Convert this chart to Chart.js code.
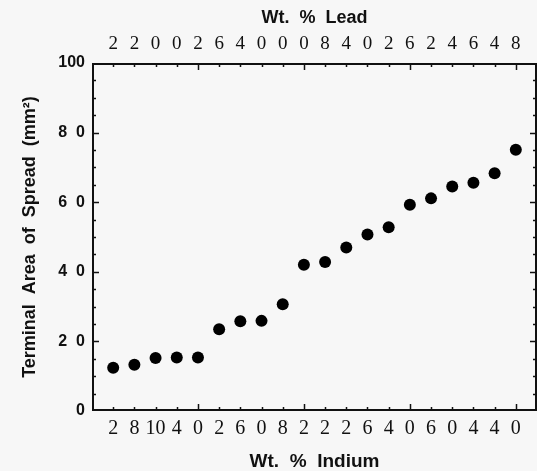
<!DOCTYPE html>
<html>
<head>
<meta charset="utf-8">
<title>Terminal Area of Spread</title>
<script src="https://cdn.jsdelivr.net/npm/chart.js@4"></script>
<style>
    html, body { margin: 0; padding: 0; background: #f7f7f7; }
    canvas { display: block; }
</style>
</head>
<body>
<canvas id="spreadChart" width="537" height="471"></canvas>
<script>
// Alloy compositions, one per sample position
const indiumLabels = ['2', '8', '10', '4', '0', '2', '6', '0', '8', '2', '2', '2', '6', '4', '0', '6', '0', '4', '4', '0'];
const leadLabels = ['2', '2', '0', '0', '2', '6', '4', '0', '0', '0', '8', '4', '0', '2', '6', '2', '4', '6', '4', '8'];

// Terminal spread area, mm^2
const spreadArea = [12.4, 13.3, 15.2, 15.4, 15.4, 23.5, 25.8, 25.9, 30.7, 42.0,
                    42.8, 47.0, 50.7, 52.8, 59.3, 61.1, 64.5, 65.6, 68.3, 75.1];

const yTicks = [0, 20, 40, 60, 80, 100];

const points = spreadArea.map((v, i) => ({ x: i + 1, y: v }));
const positions = indiumLabels.map((_, i) => i + 1);

// Frame plus inward tick marks on all four sides
const framePlugin = {
    id: 'frame',
    afterDatasetsDraw(chart) {
        const { ctx, chartArea: a, scales } = chart;
        ctx.save();
        ctx.strokeStyle = '#111';
        ctx.lineWidth = 1.5;
        ctx.beginPath();
        positions.forEach(p => {
            const x = Math.round(scales.x.getPixelForValue(p)) + 0.5;
            const len = p % 5 === 0 ? 7 : 4;
            ctx.moveTo(x, a.bottom);
            ctx.lineTo(x, a.bottom - len);
            ctx.moveTo(x, a.top);
            ctx.lineTo(x, a.top + len);
        });
        for (let v = 5; v < 100; v += 5) {
            const y = Math.round(scales.y.getPixelForValue(v)) + 0.5;
            const len = v % 20 === 0 ? 7 : 4;
            ctx.moveTo(a.left, y);
            ctx.lineTo(a.left + len, y);
            ctx.moveTo(a.right, y);
            ctx.lineTo(a.right - len, y);
        }
        ctx.stroke();
        ctx.lineWidth = 2;
        ctx.strokeRect(a.left + 1, a.top + 1, a.right - a.left - 2, a.bottom - a.top - 2);
        ctx.restore();
    }
};

const serif = { family: '"Liberation Serif", "Times New Roman", serif', lineHeight: 1 };
const sansBold = { family: '"Liberation Sans", Arial, sans-serif', weight: 'bold', lineHeight: 1 };

function fixedHeight(h) {
    return scale => { scale.height = h; };
}

const ctx = document.getElementById('spreadChart').getContext('2d');
new Chart(ctx, {
    type: 'scatter',
    data: {
        datasets: [{
            data: points,
            backgroundColor: '#000',
            borderWidth: 0,
            pointRadius: 6,
            pointHoverRadius: 6
        }]
    },
    options: {
        responsive: false,
        animation: false,
        devicePixelRatio: 1,
        layout: { padding: 0, autoPadding: false },
        plugins: {
            legend: { display: false },
            tooltip: { enabled: false }
        },
        scales: {
            x: {
                type: 'linear',
                position: 'bottom',
                min: 0,
                max: 21,
                grid: { display: false, drawTicks: false },
                border: { display: false },
                afterBuildTicks: scale => { scale.ticks = positions.map(v => ({ value: v })); },
                afterFit: fixedHeight(60),
                ticks: {
                    autoSkip: false,
                    maxRotation: 0,
                    padding: 8,
                    color: '#111',
                    font: { ...serif, size: 20 },
                    callback: v => indiumLabels[v - 1] || ''
                },
                title: {
                    display: true,
                    text: 'Wt.  %  Indium',
                    color: '#111',
                    font: { ...sansBold, size: 19 },
                    padding: { top: 0, bottom: 0 }
                }
            },
            x2: {
                type: 'linear',
                position: 'top',
                min: 0,
                max: 21,
                grid: { display: false, drawTicks: false },
                border: { display: false },
                afterBuildTicks: scale => { scale.ticks = positions.map(v => ({ value: v })); },
                afterFit: fixedHeight(63),
                ticks: {
                    autoSkip: false,
                    maxRotation: 0,
                    padding: 9,
                    color: '#111',
                    font: { ...serif, size: 19 },
                    callback: v => leadLabels[v - 1] || ''
                },
                title: {
                    display: true,
                    text: 'Wt.  %  Lead',
                    color: '#111',
                    font: { ...sansBold, size: 18 },
                    padding: { top: 9, bottom: 0 }
                }
            },
            y: {
                min: 0,
                max: 100,
                grid: { display: false, drawTicks: false },
                border: { display: false },
                afterBuildTicks: scale => { scale.ticks = yTicks.map(v => ({ value: v })); },
                afterFit: scale => { scale.width = 92; },
                ticks: {
                    padding: 7,
                    color: '#111',
                    font: { ...sansBold, size: 16 },
                    callback: v => (v > 0 && v < 100) ? String(v).split('').join('  ') : String(v)
                },
                title: {
                    display: true,
                    text: 'Terminal  Area  of  Spread  (mm²)',
                    color: '#111',
                    font: { ...sansBold, size: 18 },
                    padding: { top: 21, bottom: 0 }
                }
            }
        }
    },
    plugins: [framePlugin]
});
</script>
</body>
</html>
